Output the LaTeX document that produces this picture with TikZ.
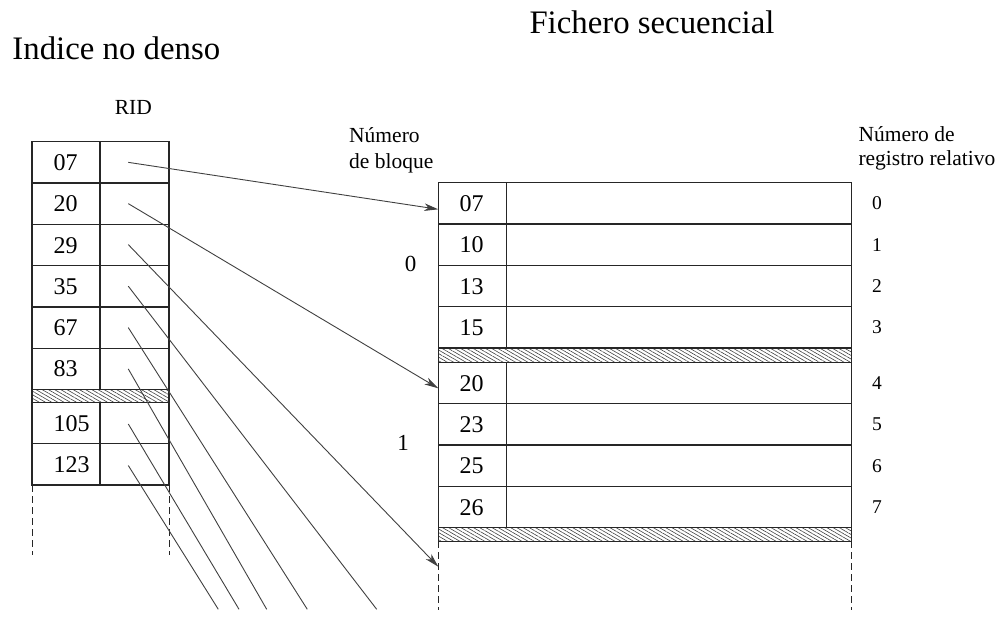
\documentclass[tikz,border=0pt]{standalone}
\usepackage{fontspec}
\setmainfont{Liberation Serif}
\usetikzlibrary{arrows.meta,patterns.meta}
\begin{document}
\begin{tikzpicture}[x=1pt,y=-1pt,
  grid/.style={line width=1.1pt, draw=black!85},
  conn/.style={line width=0.9pt, draw=black!75},
  arr/.style={conn, -{Stealth[length=14pt,width=7.5pt,inset=4pt]}},
  hatch/.style={grid, pattern={Lines[angle=-30,distance=3.1pt,line width=0.6pt]}, pattern color=black!75},
  dashline/.style={line width=1pt, draw=black!85, dash pattern=on 7pt off 4pt},
  num/.style={font=\fontsize{24}{28}\selectfont, anchor=base west, inner sep=0pt},
  lbl/.style={font=\fontsize{21.5}{26}\selectfont, anchor=base west, inner sep=0pt},
  ttl/.style={font=\fontsize{32.8}{40}\selectfont, anchor=base west, inner sep=0pt},
  idx/.style={font=\fontsize{19.5}{24}\selectfont, inner sep=0pt},
  blk/.style={font=\fontsize{23}{28}\selectfont, inner sep=0pt}]
\useasboundingbox (0,0) rectangle (1001,623);

% titles and labels
\node[ttl] (t1) at (12.3,59.3) {Indice no denso};
\node[ttl] (t2) at (529.3,33.3) {Fichero secuencial};
\node[lbl, anchor=base] (rid) at (133.3,114.3) {RID};
\node[lbl] (nb1) at (349,142.3) {Número};
\node[lbl] (nb2) at (349,168.5) {de bloque};
\node[lbl] (nr1) at (858.3,141.7) {Número de};
\node[lbl] (nr2) at (858.3,165.5) {registro relativo};

% left index table
\draw[grid] (32,141.7) rectangle (169,389.6);
\foreach \y in {183,224.3,265.7,307,348.3} \draw[grid] (32,\y) -- (169,\y);
\draw[grid] (100,141.7) -- (100,389.6);
\draw[hatch] (32,389.6) rectangle (169,402.3);
\draw[grid] (32,402.3) rectangle (169,485);
\draw[grid] (32,443.7) -- (169,443.7);
\draw[grid] (100,402.3) -- (100,485);
\draw[dashline] (32,485) -- (32,555);
\draw[dashline] (169,485) -- (169,555);

\foreach \n/\y in {07/162.35,20/203.65,29/245,35/286.35,67/327.65,83/368.95,105/423,123/464.35}
  \node[num] (k\n) at (53.3,\y+8) {\n};
\foreach \n/\y in {07/162.35,20/203.65,29/244.6,35/286.2,67/327.6,83/368.95,105/424,123/465.5}
  \coordinate (r\n) at (128.3,\y);

% right sequential file
\draw[grid] (438.3,182.7) rectangle (851.7,348);
\foreach \y in {224,265.3,306.7} \draw[grid] (438.3,\y) -- (851.7,\y);
\draw[grid] (506.7,182.7) -- (506.7,348);
\draw[hatch] (438.3,348) rectangle (851.7,362.3);
\draw[grid] (438.3,362.3) rectangle (851.7,527.6);
\foreach \y in {403.7,445,486.3} \draw[grid] (438.3,\y) -- (851.7,\y);
\draw[grid] (506.7,362.3) -- (506.7,527.6);
\draw[hatch] (438.3,527.6) rectangle (851.7,541.3);
\draw[dashline] (438.3,541.3) -- (438.3,610);
\draw[dashline] (851.7,541.3) -- (851.7,610);

\foreach \n/\y/\i in {07/203.35/0,10/244.65/1,13/286/2,15/327.35/3,20/383/4,23/424.35/5,25/465.65/6,26/507/7} {
  \node[num] (f\n) at (459.3,\y+8) {\n};
  \node[idx] (i\i) at (877,\y) {\i};
}
\node[blk] (b0) at (410.5,264.3) {0};
\node[blk] (b1) at (403,443.3) {1};

% connectors
\coordinate (t07) at (438.3,209.3);
\coordinate (t20) at (438.3,388.3);
\coordinate (t29) at (438.3,566.7);
\coordinate (e35) at (376.7,609.3);
\coordinate (e67) at (307.3,609.3);
\coordinate (e83) at (266.7,609.3);
\coordinate (e105) at (239,609.3);
\coordinate (e123) at (218.3,609.3);
\draw[arr] (r07) -- (t07);
\draw[arr] (r20) -- (t20);
\draw[arr] (r29) -- (t29);
\draw[conn] (r35) -- (e35);
\draw[conn] (r67) -- (e67);
\draw[conn] (r83) -- (e83);
\draw[conn] (r105) -- (e105);
\draw[conn] (r123) -- (e123);
\end{tikzpicture}
\end{document}
